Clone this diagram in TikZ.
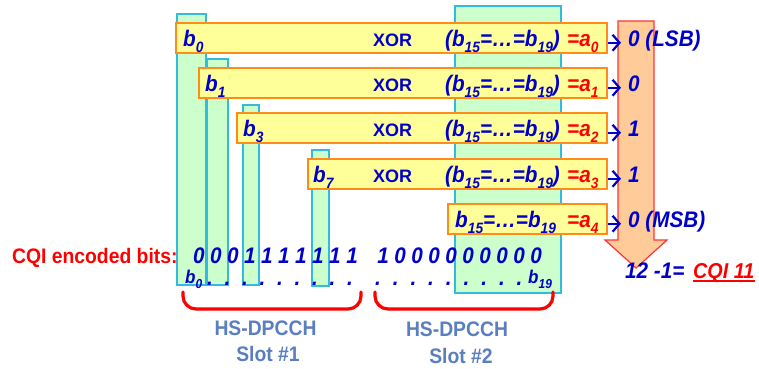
\documentclass[tikz,border=0pt]{standalone}
\usepackage{fontspec}
\setmainfont{Liberation Sans}[FakeStretch=0.92]
\newfontfamily\xorfont{Liberation Sans}
\usetikzlibrary{arrows.meta}
\definecolor{cblue}{RGB}{0,0,200}
\definecolor{cred}{RGB}{255,0,0}
\definecolor{barfill}{RGB}{204,255,204}
\definecolor{barline}{RGB}{51,187,221}
\definecolor{boxfill}{RGB}{255,255,153}
\definecolor{boxline}{RGB}{255,140,26}
\definecolor{arrfill}{RGB}{255,204,153}
\definecolor{arrline}{RGB}{255,51,51}
\definecolor{slotblue}{RGB}{90,126,190}
\newcommand{\sbs}[1]{\raisebox{-6pt}{\fontsize{15}{15}\selectfont #1}}
\newcommand{\sbsm}[1]{\raisebox{-5pt}{\fontsize{13}{13}\selectfont #1}}
\begin{document}
\begin{tikzpicture}[x=1pt,y=-1pt,
  bar/.style={draw=barline, fill=barfill, line width=1.2pt},
  ybox/.style={draw=boxline, fill=boxfill, line width=1.5pt, anchor=north west, inner sep=0pt, minimum height=30pt},
  txt/.style={inner sep=0pt, anchor=base west, text=cblue, font=\bfseries\itshape\fontsize{22.5}{26}\selectfont},
  rtxt/.style={txt, text=cred},
  xortxt/.style={inner sep=0pt, anchor=base west, text=cblue, font=\xorfont\bfseries\fontsize{18}{22}\selectfont},
  bit/.style={txt, anchor=base},
  smallb/.style={txt, font=\bfseries\itshape\fontsize{18.5}{22}\selectfont},
  lbl/.style={inner sep=0pt, anchor=base, text=slotblue, font=\bfseries\fontsize{21}{25}\selectfont},
  sarrow/.style={draw=cblue, line width=2.2pt, -{Straight Barb[length=7pt,width=16pt,line width=2.2pt]}},
  brace/.style={draw=cred, line width=3.2pt, line cap=round, rounded corners=13pt}
]
\useasboundingbox (0,0) rectangle (759,368);
% green bars
\draw[bar] (177,14) rectangle (206,285);
\draw[bar] (207,59) rectangle (228,285);
\draw[bar] (243,105) rectangle (259,285);
\draw[bar] (312,150) rectangle (329,286);
\draw[bar] (455,6) rectangle (561,293);
% yellow boxes
\node[ybox, minimum width=431pt] (box0) at (175,22) {};
\node[ybox, minimum width=408pt] (box1) at (198,67) {};
\node[ybox, minimum width=370pt] (box2) at (236,112) {};
\node[ybox, minimum width=299pt] (box3) at (307,158) {};
\node[ybox, minimum width=159pt] (box4) at (447,203) {};
% big orange arrow
\draw[fill=arrfill, draw=arrline, line width=1.2pt] (618,21) -- (654,21) -- (654,240) -- (667,240) -- (636,268) -- (605,240) -- (618,240) -- cycle;
% row texts
\node[txt] (bl0) at (183,46.5) {b\sbs{0}};
\node[txt] (bl1) at (205,91.5) {b\sbs{1}};
\node[txt] (bl2) at (243,136.5) {b\sbs{3}};
\node[txt] (bl3) at (313,182.5) {b\sbs{7}};
\node[xortxt] (x0) at (373,46.5) {XOR};
\node[xortxt] (x1) at (373,91.5) {XOR};
\node[xortxt] (x2) at (373,136.5) {XOR};
\node[xortxt] (x3) at (373,182.5) {XOR};
\node[txt] (p0) at (445,46.5) {(b\sbs{15}=…=b\sbs{19})};
\node[txt] (p1) at (445,91.5) {(b\sbs{15}=…=b\sbs{19})};
\node[txt] (p2) at (445,136.5) {(b\sbs{15}=…=b\sbs{19})};
\node[txt] (p3) at (445,182.5) {(b\sbs{15}=…=b\sbs{19})};
\node[txt] (p4) at (455,227.5) {b\sbs{15}=…=b\sbs{19}};
\node[rtxt] (a0) at (567,46.5) {=a\sbs{0}};
\node[rtxt] (a1) at (567,91.5) {=a\sbs{1}};
\node[rtxt] (a2) at (567,136.5) {=a\sbs{2}};
\node[rtxt] (a3) at (567,182.5) {=a\sbs{3}};
\node[rtxt] (a4) at (567,227.5) {=a\sbs{4}};
\node[txt] (res0) at (628,46.5) {0 (LSB)};
\node[txt] (res1) at (628,91.5) {0};
\node[txt] (res2) at (628,136.5) {1};
\node[txt] (res3) at (628,182.5) {1};
\node[txt] (res4) at (628,227.5) {0 (MSB)};
\foreach \i in {0,...,4}{
  \draw[sarrow] ([yshift=-5pt]box\i.east) -- ([yshift=-5pt,xshift=-7pt]box\i.east -| res\i.west);
}
% bottom bits
\node[inner sep=0pt, anchor=base west, text=cred, font=\bfseries\fontsize{21}{25}\selectfont] (cqi) at (12,263) {CQI encoded bits:};
\foreach \v [count=\i from 0] in {0,0,0,1,1,1,1,1,1,1}{
  \node[bit] (ba\i) at ({199+17*\i},263) {\v};
}
\foreach \v [count=\i from 0] in {1,0,0,0,0,0,0,0,0,0}{
  \node[bit] (bb\i) at ({383+17*\i},263) {\v};
}
\foreach \i in {0,...,8}{
  \node[bit] (da\i) at ({210+17.5*\i},285) {.};
  \node[bit] (db\i) at ({378+17.7*\i},285) {.};
}
\node[smallb] (bfirst) at (185,283) {b\sbsm{0}};
\node[smallb] (blast) at (528,283) {b\sbsm{19}};
% braces
\draw[brace] (183,292) -- (183,309) -- (361,309) -- (361,292);
\draw[brace] (375,292) -- (375,309) -- (553,309) -- (553,292);
\node[lbl] (s1a) at (265.5,335) {HS-DPCCH};
\node[lbl] (s1b) at (268,361) {Slot \#1};
\node[lbl] (s2a) at (457,336) {HS-DPCCH};
\node[lbl] (s2b) at (461,363) {Slot \#2};
% result
\node[txt] (calc) at (625,278) {12 -1=};
\node[rtxt, font=\bfseries\itshape\fontsize{21.5}{26}\selectfont] (cqires) at (693,278) {CQI 11};
\draw[draw=cred, line width=1.5pt] ([yshift=-3pt]cqires.base west) -- ([yshift=-3pt]cqires.base east);
\end{tikzpicture}
\end{document}
